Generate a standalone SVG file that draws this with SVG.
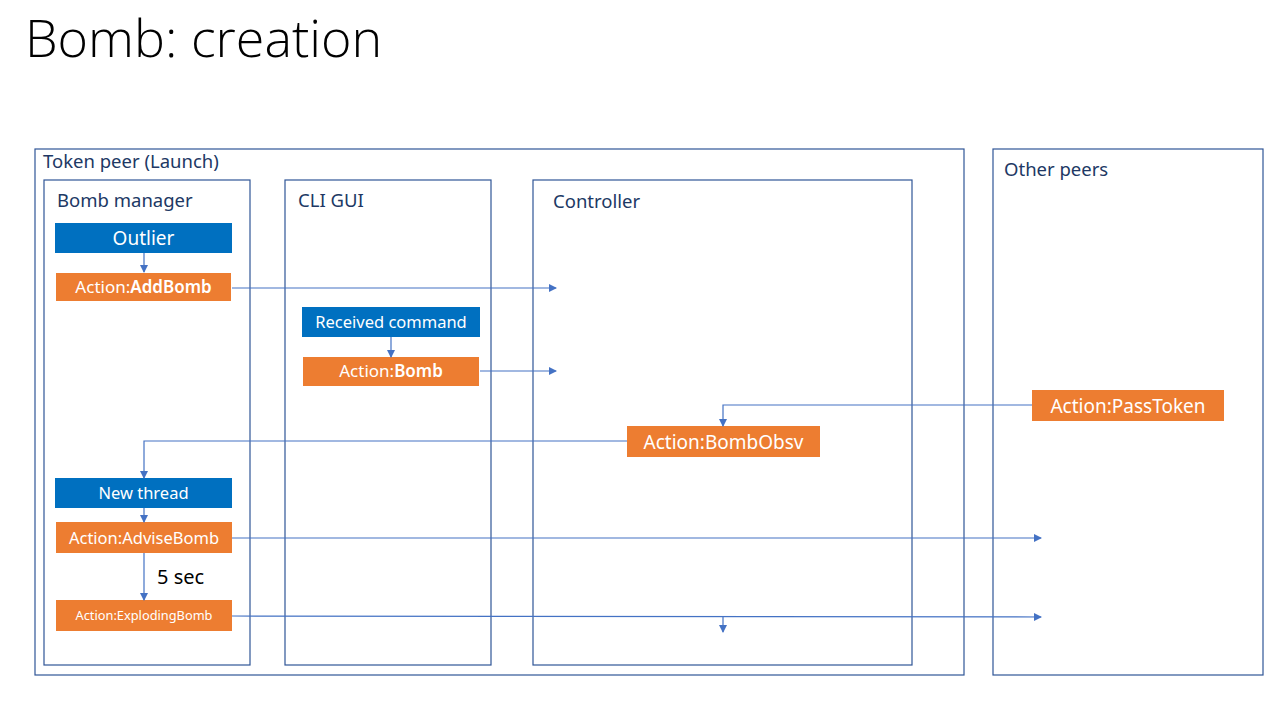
<svg xmlns="http://www.w3.org/2000/svg" width="1280" height="720" viewBox="0 0 1280 720">
<defs>
<marker id="ah" markerWidth="8" markerHeight="8" refX="7" refY="4" orient="auto" markerUnits="userSpaceOnUse">
<path d="M0,0 L8,4 L0,8 Z" fill="#4472C4"/>
</marker>
<style>
.cont{fill:none;stroke:#2F5597;stroke-width:1.2}
.lbl{font-family:"Noto Sans","Open Sans",sans-serif;fill:#203864;font-size:18.5px}
.blue{fill:#0070C0}
.orng{fill:#ED7D31}
.bt{font-family:"Noto Sans","Open Sans",sans-serif;fill:#fff;text-anchor:middle}
.conn{fill:none;stroke:#4472C4;stroke-width:1.2;marker-end:url(#ah)}
</style>
</defs>
<rect width="1280" height="720" fill="#fff"/>
<text x="25" y="57" font-family="Open Sans, sans-serif" font-size="52" font-weight="300" fill="#000">Bomb: creation</text>

<g id="token-peer">
<rect class="cont" x="35" y="149" width="929" height="526"/>
<text class="lbl" x="43" y="168">Token peer (Launch)</text>
</g>
<g id="other-peers">
<rect class="cont" x="993" y="149" width="270" height="526"/>
<text class="lbl" x="1004" y="176">Other peers</text>
</g>
<g id="bomb-manager">
<rect class="cont" x="44" y="180" width="206" height="485"/>
<text class="lbl" x="57" y="207">Bomb manager</text>
</g>
<g id="cli-gui">
<rect class="cont" x="285" y="180" width="206" height="485"/>
<text class="lbl" x="298" y="207">CLI GUI</text>
</g>
<g id="controller">
<rect class="cont" x="533" y="180" width="379" height="485"/>
<text class="lbl" x="553" y="208">Controller</text>
</g>

<g id="outlier">
<rect class="blue" x="55" y="223" width="177" height="30"/>
<text class="bt" x="143.5" y="245" style="font-size:19px">Outlier</text>
</g>
<g id="addbomb">
<rect class="orng" x="56" y="273" width="175" height="28"/>
<text class="bt" x="143.5" y="293" style="font-size:17px">Action:<tspan font-weight="600">AddBomb</tspan></text>
</g>
<g id="received-command">
<rect class="blue" x="302" y="307" width="178" height="30"/>
<text class="bt" x="391" y="328" style="font-size:16.5px">Received command</text>
</g>
<g id="bomb">
<rect class="orng" x="303" y="357" width="176" height="29"/>
<text class="bt" x="391" y="377" style="font-size:17px">Action:<tspan font-weight="600">Bomb</tspan></text>
</g>
<g id="passtoken">
<rect class="orng" x="1032" y="390" width="192" height="31"/>
<text class="bt" x="1128" y="413" style="font-size:19px">Action:PassToken</text>
</g>
<g id="bombobsv">
<rect class="orng" x="627" y="426" width="193" height="31"/>
<text class="bt" x="723.5" y="449" style="font-size:19px">Action:BombObsv</text>
</g>
<g id="new-thread">
<rect class="blue" x="55" y="478" width="177" height="30"/>
<text class="bt" x="143.5" y="499" style="font-size:16.5px">New thread</text>
</g>
<g id="advisebomb">
<rect class="orng" x="56" y="522" width="176" height="31"/>
<text class="bt" x="144" y="544" style="font-size:16.5px">Action:AdviseBomb</text>
</g>
<g id="explodingbomb">
<rect class="orng" x="56" y="600" width="176" height="31"/>
<text class="bt" x="144" y="620" style="font-size:12.8px">Action:ExplodingBomb</text>
</g>

<g id="connectors">
<path class="conn" d="M144,253 V272"/>
<path class="conn" d="M232,288 H556"/>
<path class="conn" d="M391,337 V357"/>
<path class="conn" d="M480,371 H556"/>
<path class="conn" d="M1032,405 H723 V426"/>
<path class="conn" d="M627,441 H144 V478"/>
<path class="conn" d="M144,508 V522"/>
<path class="conn" d="M232,538 H1041"/>
<path class="conn" d="M144,553 V600"/>
<text x="157" y="584" font-family="Noto Sans, sans-serif" font-size="20" fill="#000">5 sec</text>
<path class="conn" d="M232,616 L1041,617"/>
<path class="conn" d="M723,617 V632"/>
</g>
</svg>
